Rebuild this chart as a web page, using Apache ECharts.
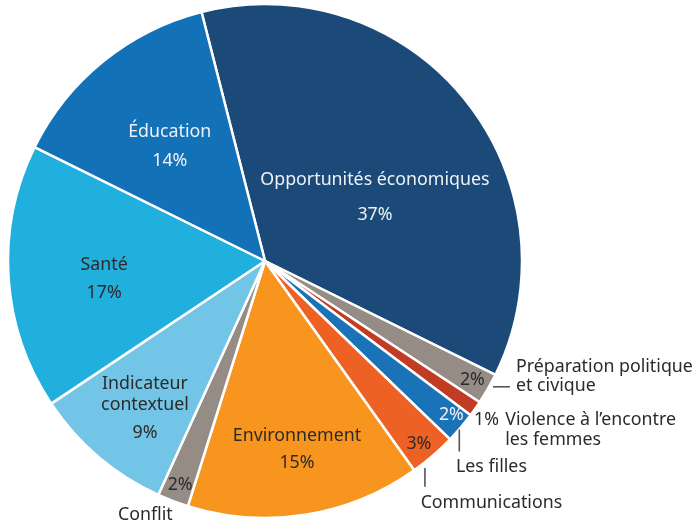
<!DOCTYPE html>
<html>
<head>
<meta charset="utf-8">
<script src="https://cdn.jsdelivr.net/npm/echarts@6/dist/echarts.min.js"></script>
<style>
  html, body { margin: 0; padding: 0; background: #ffffff; }
  #chart { width: 694px; height: 527px; }
</style>
</head>
<body>
<div id="chart"></div>
<script>
// Share of funding by theme (percent)
const categories = [
  'Opportunités économiques',
  'Préparation politique\net civique',
  'Violence à l’encontre\nles femmes',
  'Les filles',
  'Communications',
  'Environnement',
  'Conflit',
  'Indicateur\ncontextuel',
  'Santé',
  'Éducation'
];
const values = [37, 2, 1, 2, 3, 15, 2, 9, 17, 14];
const sliceColors = [
  '#1b4a79', '#958c85', '#c23b23', '#1a73b6', '#ed6125',
  '#f7951e', '#958c85', '#72c5e6', '#21afdd', '#1271b7'
];

// Pie geometry
const CX = 265, CY = 261, R = 257;
const START_CW = -14.3;               // first slice edge, degrees clockwise from 12 o'clock
const FONT = '"Noto Sans", "Open Sans", sans-serif';
const FS = 17.8;

const total = values.reduce((a, b) => a + b, 0);
const midAngles = [];
let acc = 0;
values.forEach(v => { midAngles.push(START_CW + (acc + v / 2) / total * 360); acc += v; });

function polar(angleCw, r) {
  const a = angleCw * Math.PI / 180;
  return [CX + r * Math.sin(a), CY - r * Math.cos(a)];
}

// Where each slice's value label sits: fraction of the radius, angle nudge
const innerPlace = [
  { k: 0.495, dA: 8.8, light: true,  gap: 35 },
  { k: 0.93,  dA: 0,   light: false },
  { k: 1.06,  dA: 0.5, light: false },
  { k: 0.94,  dA: -0.9, light: true },
  { k: 0.93,  dA: 0.7, light: false },
  { k: 0.745, dA: -0.6, light: false, gap: 27 },
  { k: 0.93,  dA: -0.2, light: false },
  { k: 0.75,  dA: -1.9, light: false, gap: 28, nameLH: 21 },
  { k: 0.63,  dA: -2.7, light: false, gap: 28 },
  { k: 0.58,  dA: -0.7, light: true,  gap: 29 }
];
// Slices whose names sit inside the pie
const namedInside = [0, 5, 7, 8, 9];

// Names written outside the pie: offset of text from the rim point, optional leader line
const outerPlace = {
  1: { dx: 28,    dy: -12.5, align: 'left',   line: [[5, -2], [22, -2]] },
  2: { dx: 30,    dy: 21,    align: 'left' },
  3: { dx: -4.7,  dy: 39,    align: 'left',   line: [[-1.4, 2], [-1.4, 24]] },
  4: { dx: -12.2, dy: 47.4,  align: 'left',   line: [[-7.9, 12.4], [-7.9, 31]] },
  6: { dx: -27.6, dy: 14.1,  align: 'center' }
};

const chart = echarts.init(document.getElementById('chart'), null, { renderer: 'canvas' });

const mainData = categories.map((name, i) => {
  const p = innerPlace[i];
  const color = p.light ? '#eef2f7' : '#2b2b2b';
  const inside = namedInside.indexOf(i) >= 0;
  const nameLH = p.nameLH || p.gap || 28;
  const pctLH = p.gap ? 2 * p.gap - nameLH : 20;
  return {
    name: name,
    value: values[i],
    itemStyle: { color: sliceColors[i] },
    label: {
      formatter: inside ? '{n|' + name.replace('\n', '}\n{n|') + '}\n{p|' + values[i] + '%}'
                        : '{p|' + values[i] + '%}',
      rich: {
        n: { fontFamily: FONT, fontSize: FS, color: color, lineHeight: nameLH, align: 'center' },
        p: { fontFamily: FONT, fontSize: FS, color: color, lineHeight: pctLH, align: 'center' }
      }
    }
  };
});

const outerData = categories.map((name, i) => {
  const o = outerPlace[i];
  return {
    name: name,
    value: values[i],
    itemStyle: { color: 'rgba(0,0,0,0)' },
    label: { show: !!o, formatter: name, align: o ? o.align : 'left' },
    labelLine: { show: !!(o && o.line) }
  };
});

chart.setOption({
  animation: false,
  backgroundColor: '#ffffff',
  series: [
    {
      type: 'pie',
      center: [CX, CY],
      radius: [0, R],
      startAngle: 90 - START_CW,
      clockwise: true,
      silent: true,
      itemStyle: { borderColor: '#ffffff', borderWidth: 2.5 },
      label: { show: true, position: 'inside', overflow: 'none' },
      labelLine: { show: false },
      labelLayout: function (params) {
        const i = params.dataIndex;
        const p = innerPlace[i];
        const pt = polar(midAngles[i] + p.dA, R * p.k);
        return { x: pt[0], y: pt[1], align: 'center', verticalAlign: 'middle' };
      },
      data: mainData
    },
    {
      type: 'pie',
      center: [CX, CY],
      radius: [0, R],
      startAngle: 90 - START_CW,
      clockwise: true,
      silent: true,
      z: 3,
      avoidLabelOverlap: false,
      itemStyle: { borderWidth: 0 },
      label: {
        show: true,
        position: 'outside',
        overflow: 'none',
        width: 400,
        fontFamily: FONT,
        fontSize: FS,
        color: '#2b2b2b',
        lineHeight: 19.5
      },
      labelLine: { show: true, lineStyle: { color: '#555555', width: 1.6 } },
      labelLayout: function (params) {
        const i = params.dataIndex;
        const o = outerPlace[i];
        if (!o) return {};
        const rim = polar(midAngles[i], R);
        const res = {
          x: rim[0] + o.dx,
          y: rim[1] + o.dy,
          align: o.align,
          verticalAlign: 'middle'
        };
        if (o.line) {
          res.labelLinePoints = o.line.map(d => [rim[0] + d[0], rim[1] + d[1]]);
        }
        return res;
      },
      data: outerData
    }
  ]
});
</script>
</body>
</html>
